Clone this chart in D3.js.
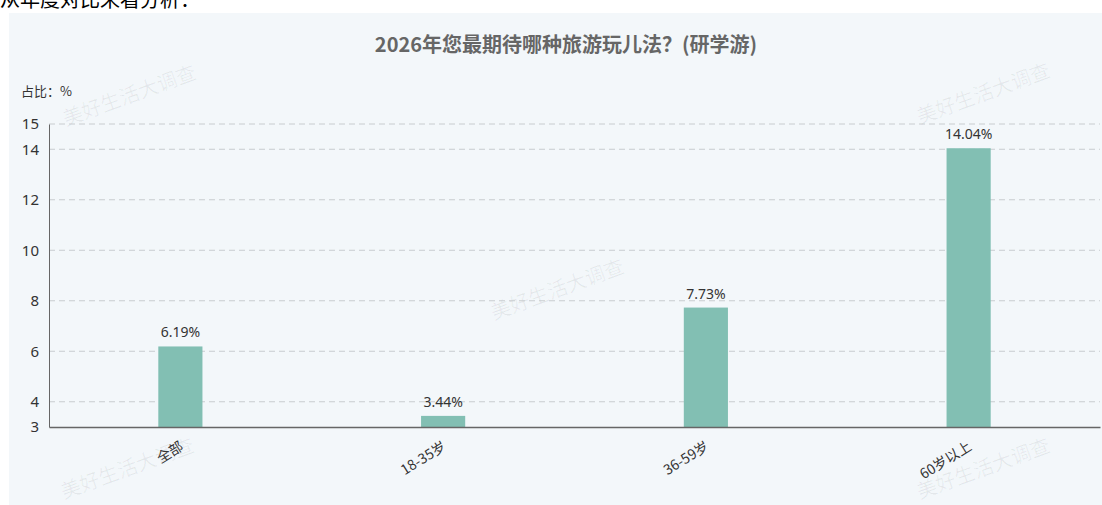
<!DOCTYPE html>
<html>
<head>
<meta charset="utf-8">
<script src="https://d3js.org/d3.v7.min.js"></script>
<style>
  body { margin: 0; background: #fff; }
  text { font-family: "Noto Sans CJK SC", "Microsoft YaHei", sans-serif; }
</style>
</head>
<body>
<script>
// data
var categories = ["全部", "18-35岁", "36-59岁", "60岁以上"];
var values = [6.19, 3.44, 7.73, 14.04];
var yTicks = [3, 4, 6, 8, 10, 12, 14, 15];
var title = "2026年您最期待哪种旅游玩儿法？(研学游)";
var unitLabel = "占比：%";
var watermark = "美好生活大调查";

var W = 1102, H = 505;
var plotLeft = 49, plotRight = 1100, plotTop = 124, plotBottom = 427;

var svg = d3.select("body").append("svg")
  .attr("width", W).attr("height", H);

// cropped text line from the page above
svg.append("text")
  .attr("x", 0).attr("y", 7)
  .attr("font-size", 20)
  .attr("fill", "#000")
  .text("从年度对比来看分析：");

// panel
svg.append("rect")
  .attr("x", 9).attr("y", 13)
  .attr("width", W - 9).attr("height", H - 13)
  .attr("fill", "#f3f7fa");

// watermarks
var marks = [[66, 126], [494, 320], [920, 124], [64, 499], [920, 499]];
svg.selectAll(".wm").data(marks).enter().append("text")
  .attr("class", "wm")
  .attr("transform", function(d) { return "translate(" + d[0] + "," + d[1] + ") rotate(-20)"; })
  .attr("font-size", 20)
  .attr("fill", "#000")
  .attr("fill-opacity", 0.06)
  .text(watermark);

var x = d3.scaleBand().domain(categories).range([plotLeft, plotRight]);
var y = d3.scaleLinear().domain([3, 15]).range([plotBottom, plotTop]);

// grid
svg.selectAll(".grid").data(yTicks.filter(function(t) { return t > 3; })).enter()
  .append("line")
  .attr("x1", plotLeft).attr("x2", plotRight)
  .attr("y1", function(d) { return y(d); })
  .attr("y2", function(d) { return y(d); })
  .attr("stroke", "#c8cccf")
  .attr("stroke-dasharray", "6,4");

// y axis
var yAxis = svg.append("g")
  .attr("transform", "translate(" + plotLeft + ",0)")
  .call(d3.axisLeft(y).tickValues(yTicks).tickSize(0).tickPadding(10).tickFormat(d3.format("d")));
yAxis.select(".domain").attr("stroke", "#666");
yAxis.selectAll("text").attr("font-size", 15).attr("fill", "#333")
  .style("font-family", "'Noto Sans', 'Noto Sans CJK SC', sans-serif");

// bars
var bw = x.bandwidth() * 0.168;
svg.selectAll(".bar").data(values).enter().append("rect")
  .attr("x", function(d, i) { return x(categories[i]) + x.bandwidth() / 2 - bw / 2; })
  .attr("y", function(d) { return y(d); })
  .attr("width", bw)
  .attr("height", function(d) { return y(3) - y(d); })
  .attr("fill", "#82bfb3");

// value labels
svg.selectAll(".val").data(values).enter().append("text")
  .attr("x", function(d, i) { return x(categories[i]) + x.bandwidth() / 2; })
  .attr("y", function(d) { return y(d) - 9; })
  .attr("text-anchor", "middle")
  .attr("font-size", 14)
  .attr("fill", "#333")
  .style("font-family", "'Noto Sans', 'Noto Sans CJK SC', sans-serif")
  .text(function(d) { return d.toFixed(2) + "%"; });

// x axis
var xAxis = svg.append("g")
  .attr("transform", "translate(0," + plotBottom + ")")
  .call(d3.axisBottom(x).tickSize(0).tickPadding(0));
xAxis.select(".domain").attr("stroke", "#666").attr("stroke-width", 1.5);
xAxis.selectAll("text")
  .attr("font-size", 14)
  .attr("fill", "#333")
  .attr("text-anchor", "end")
  .attr("dy", 0)
  .attr("transform", "translate(4,22) rotate(-32)");

// title
svg.append("text")
  .attr("x", 566).attr("y", 52)
  .attr("text-anchor", "middle")
  .attr("font-size", 20)
  .attr("font-weight", "bold")
  .attr("fill", "#666")
  .text(title);

svg.append("text")
  .attr("x", 21).attr("y", 96)
  .attr("font-size", 13)
  .attr("fill", "#333")
  .text(unitLabel);
</script>
</body>
</html>
